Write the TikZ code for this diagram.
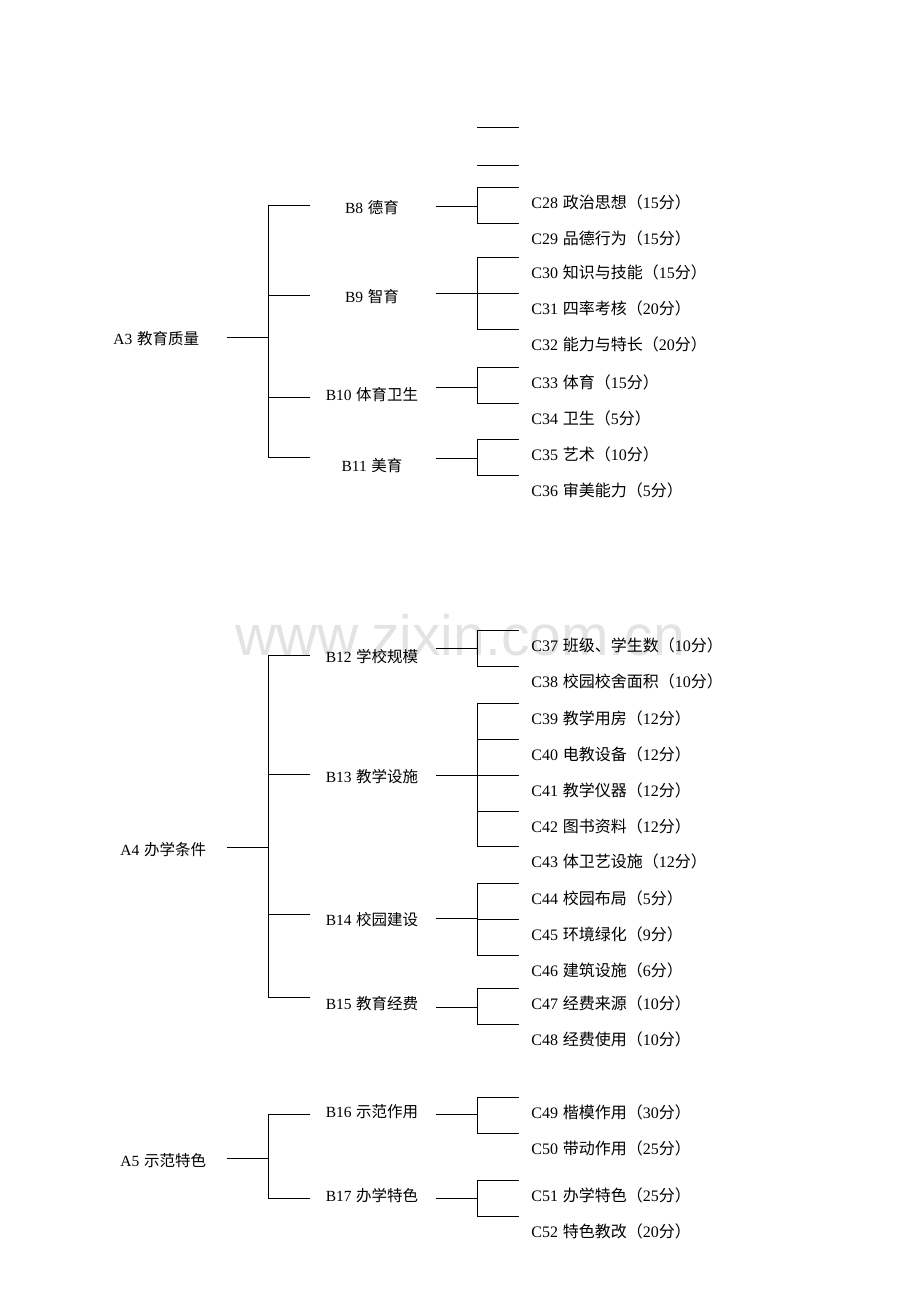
\documentclass[tikz,border=0pt]{standalone}
\usepackage{fontspec}
\setmainfont{Liberation Serif}
\newfontfamily\cjk{Noto Sans CJK SC}
\newfontfamily\wmfont{Liberation Sans}
\newcommand{\cname}[3]{C#1\hspace{.3em}{\cjk #2（}#3{\cjk 分）}}
\begin{document}
\begin{tikzpicture}[x=1pt,y=-1pt,line width=0.9pt]
	\tikzset{lab/.style={font=\fontsize{15.5}{18}\selectfont,inner sep=0pt},
		clab/.style={lab,font=\fontsize{16}{18}\selectfont,anchor=west}}
	\useasboundingbox (0,0) rectangle (920,1302);
	% watermark
	\node[font=\wmfont\fontsize{57}{60}\selectfont,text=gray!22,inner sep=0pt] (wm) at (460,635) {www.zixin.com.cn};
	% A level
	\foreach \n/\x/\y/\ly/\t in {3/113/337/339/教育质量,4/120/847/850/办学条件,5/120/1158/1161/示范特色}{
		\node[lab,anchor=west] (a\n) at (\x,\ly) {A\n\hspace{.3em}{\cjk \t}};
		\coordinate (ao\n) at (227,\y);
		\coordinate (aj\n) at (268,\y);
		\draw (ao\n) -- (aj\n);
	}
	% B level
	\foreach \n/\a/\y/\ly/\o/\t in {8/3/205/208/206/德育,9/3/295/297/293/智育,10/3/397/395/387/体育卫生,11/3/457/466/458/美育,
		12/4/655/657/648/学校规模,13/4/774/777/775/教学设施,14/4/914/920/918/校园建设,15/4/997/1004/1007/教育经费,
		16/5/1114/1112/1114/示范作用,17/5/1198/1196/1198/办学特色}{
		\node[lab] (b\n) at (372,\ly) {B\n\hspace{.3em}{\cjk \t}};
		\coordinate (bt\n) at (310,\y);
		\draw (aj\a) |- (bt\n);
		\coordinate (bo\n) at (436,\o);
		\coordinate (bj\n) at (477,\o);
		\draw (bo\n) -- (bj\n);
	}
	% C level
	\foreach \n/\b/\y/\t/\s in {28/8/187/政治思想/15,29/8/223/品德行为/15,
		30/9/257/知识与技能/15,31/9/293/四率考核/20,32/9/329/能力与特长/20,
		33/10/367/体育/15,34/10/403/卫生/5,35/11/439/艺术/10,36/11/475/审美能力/5,
		37/12/630/班级、学生数/10,38/12/666/校园校舍面积/10,
		39/13/703/教学用房/12,40/13/739/电教设备/12,41/13/775/教学仪器/12,42/13/811/图书资料/12,43/13/846/体卫艺设施/12,
		44/14/883/校园布局/5,45/14/919/环境绿化/9,46/14/955/建筑设施/6,
		47/15/988/经费来源/10,48/15/1024/经费使用/10,
		49/16/1097/楷模作用/30,50/16/1133/带动作用/25,51/17/1180/办学特色/25,52/17/1216/特色教改/20}{
		\coordinate (ct\n) at (519,\y);
		\draw (bj\b) |- (ct\n);
		\node[clab] (c\n) at (531,{\y+15}) {\cname{\n}{\t}{\s}};
	}
	% loose lines at the top
	\foreach \i/\y in {1/127,2/165}{
		\coordinate (sl\i) at (477,\y);
		\coordinate (sr\i) at (519,\y);
		\draw (sl\i) -- (sr\i);
	}
\end{tikzpicture}
\end{document}
